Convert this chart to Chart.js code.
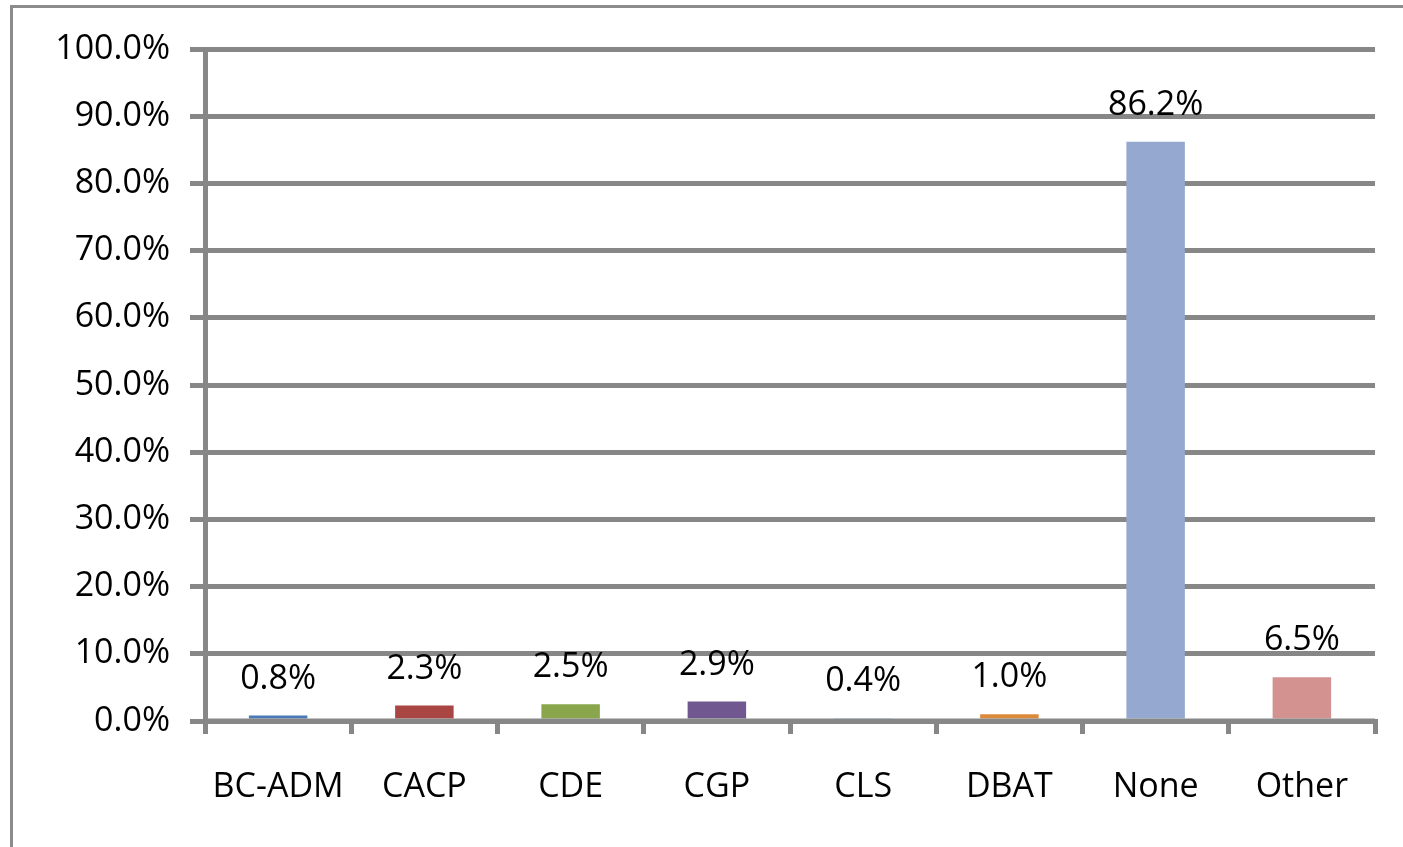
<!DOCTYPE html>
<html>
<head>
<meta charset="utf-8">
<script src="https://cdn.jsdelivr.net/npm/chart.js@4/dist/chart.umd.min.js"></script>
<style>
  html, body { margin: 0; padding: 0; background: #fff; }
  #wrap { width: 1403px; height: 847px; }
</style>
</head>
<body>
<div id="wrap"><canvas id="myChart" width="1403" height="847"></canvas></div>
<script>
const categories = ['BC-ADM', 'CACP', 'CDE', 'CGP', 'CLS', 'DBAT', 'None', 'Other'];
const percentages = [0.8, 2.3, 2.5, 2.9, 0.4, 1.0, 86.2, 6.5];
const barColors = ['#4a7ab5', '#a94543', '#8aa64d', '#70578f', '#4bacc6', '#dc8a3a', '#95a9d0', '#d39190'];
const yTicks = [0, 10, 20, 30, 40, 50, 60, 70, 80, 90, 100];

const gray = '#878787';
const font = "'Open Sans', 'Liberation Sans', sans-serif";

// outer chart frame, like the spreadsheet chart border
const framePlugin = {
    id: 'frame',
    beforeDraw(chart) {
        const ctx = chart.ctx;
        ctx.save();
        ctx.fillStyle = '#fff';
        ctx.fillRect(0, 0, chart.width, chart.height);
        ctx.strokeStyle = '#8c8c8c';
        ctx.lineWidth = 3;
        ctx.strokeRect(11.5, 6.5, chart.width + 20, chart.height + 20);
        ctx.restore();
    }
};

// base axis line redrawn over the bars, then value labels above each bar
const valueLabels = {
    id: 'valueLabels',
    afterDatasetsDraw(chart) {
        const ctx = chart.ctx;
        const area = chart.chartArea;
        const y0 = chart.scales.y.getPixelForValue(0);
        ctx.save();
        ctx.strokeStyle = gray;
        ctx.lineWidth = 5;
        ctx.beginPath();
        ctx.moveTo(area.left, y0);
        ctx.lineTo(area.right, y0);
        ctx.stroke();

        const meta = chart.getDatasetMeta(0);
        ctx.font = '34px ' + font;
        ctx.fillStyle = '#000';
        ctx.textAlign = 'center';
        ctx.textBaseline = 'alphabetic';
        meta.data.forEach((bar, i) => {
            ctx.fillText(percentages[i].toFixed(1) + '%', bar.x, bar.y - 27);
        });
        ctx.restore();
    }
};

const ctx = document.getElementById('myChart').getContext('2d');
new Chart(ctx, {
    type: 'bar',
    data: {
        labels: categories,
        datasets: [{
            data: percentages,
            backgroundColor: barColors,
            borderWidth: 0,
            categoryPercentage: 1.0,
            barPercentage: 0.4
        }]
    },
    options: {
        responsive: false,
        animation: false,
        layout: { padding: { left: 0, top: 49, right: 28, bottom: 0 } },
        plugins: {
            legend: { display: false },
            tooltip: { enabled: false }
        },
        scales: {
            x: {
                grid: {
                    display: true,
                    drawOnChartArea: false,
                    drawTicks: true,
                    tickLength: 13,
                    color: gray,
                    lineWidth: 5,
                    offset: true
                },
                border: { display: true, color: gray, width: 5 },
                ticks: {
                    color: '#000',
                    font: { family: font, size: 34 },
                    padding: 33,
                    maxRotation: 0
                },
                afterFit(scale) { scale.height = 126; }
            },
            y: {
                min: 0,
                max: 100,
                afterBuildTicks(scale) {
                    scale.ticks = yTicks.map(v => ({ value: v }));
                },
                grid: {
                    color: gray,
                    lineWidth: 5,
                    tickLength: 15
                },
                border: { display: true, color: gray, width: 5 },
                ticks: {
                    color: '#000',
                    font: { family: font, size: 34 },
                    padding: 20,
                    callback: v => v.toFixed(1) + '%'
                },
                afterFit(scale) { scale.width = 205; }
            }
        }
    },
    plugins: [framePlugin, valueLabels]
});
</script>
</body>
</html>
